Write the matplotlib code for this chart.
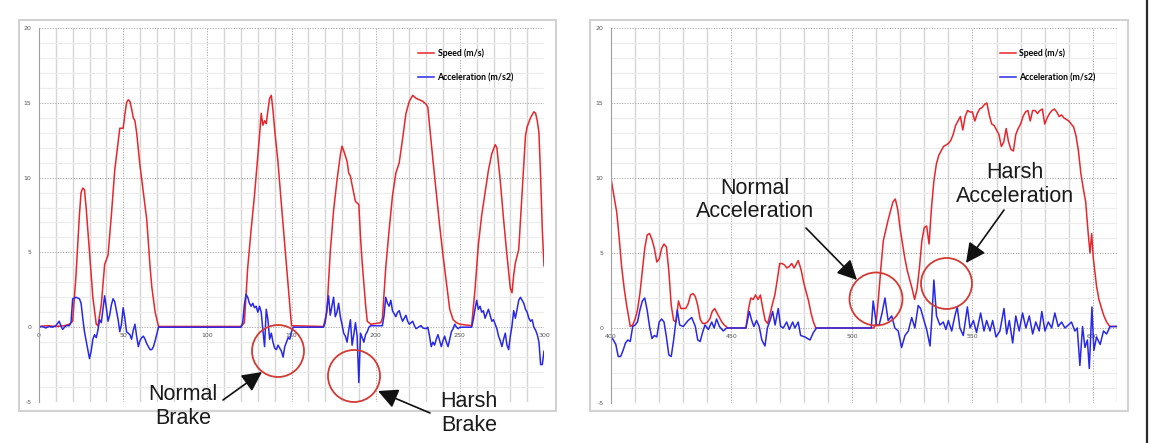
import matplotlib
matplotlib.use("Agg")
import matplotlib.pyplot as plt
import numpy as np
from matplotlib.ticker import MultipleLocator
from matplotlib.patches import Ellipse, FancyArrowPatch
from matplotlib.lines import Line2D

plt.rcParams["axes.unicode_minus"] = False

# ---- data: (time s, value) ----
left_speed = [
    (0, 0.05), (5, 0.1), (10, 0.05), (15, 0.1), (18, 0.2), (20, 0.4), (22, 3.5), (24, 7.5),
    (25, 9.0), (26, 9.3), (27, 9.2), (28, 8.0), (30, 5.0), (32, 2.0), (34, 0.2), (35, 0.1),
    (37, 1.5), (39, 4.2), (40, 4.5), (41, 4.8), (43, 7.5), (45, 10.5), (47, 12.4), (48, 13.3),
    (50, 13.3), (51, 14.2), (52, 15.0), (53, 15.2), (54, 15.1), (55, 14.6), (56, 14.0),
    (57, 13.8), (58, 13.0), (60, 10.8), (62, 9.0), (64, 7.2), (66, 4.0), (67, 2.7), (69, 1.0),
    (71, 0.05), (120, 0.05), (122, 0.3), (124, 4.0), (126, 6.5), (128, 8.8), (130, 11.5),
    (131, 12.8), (132, 14.3), (133, 13.5), (134, 13.8), (135, 13.6), (136, 14.5), (137, 15.3),
    (138, 15.5), (139, 14.5), (140, 13.2), (142, 11.0), (144, 8.2), (146, 5.5), (148, 2.8),
    (150, 0.1), (169, 0.05), (171, 1.0), (173, 5.0), (175, 7.8), (177, 9.8), (179, 11.5),
    (180, 12.1), (181, 11.8), (183, 11.1), (184, 10.3), (185, 10.1), (186, 9.5), (188, 8.4),
    (190, 8.2), (191, 6.0), (192, 4.3), (194, 1.5), (195, 0.4), (197, 0.2), (203, 0.3),
    (204, 0.6), (206, 4.0), (208, 6.5), (210, 8.8), (212, 10.3), (214, 11.0), (216, 12.6),
    (218, 14.3), (220, 15.1), (222, 15.5), (224, 15.3), (226, 15.2), (228, 15.1), (230, 14.9),
    (231, 14.7), (232, 13.5), (234, 11.2), (236, 9.0), (238, 6.8), (240, 4.8), (242, 3.0),
    (244, 1.2), (246, 0.5), (248, 0.3), (250, 0.2), (257, 0.1), (259, 2.5), (261, 5.5),
    (263, 7.5), (265, 9.0), (267, 10.5), (269, 11.6), (271, 12.2), (272, 12.0), (274, 9.8),
    (276, 7.2), (278, 4.8), (280, 2.6), (281, 2.3), (282, 3.5), (283, 4.3), (285, 5.2),
    (287, 9.0), (289, 12.8), (290, 13.4), (292, 14.0), (294, 14.4), (295, 14.3), (296, 13.8),
    (297, 13.0), (298, 10.0), (299, 6.5), (300, 4.1),
]

left_accel = [
    (0, 0), (2, 0.05), (4, -0.05), (6, 0.05), (8, 0.0), (10, 0.1), (12, 0.4), (13, 0.1),
    (14, -0.15), (16, 0.1), (18, 0.1), (19, 0.3), (20, 1.9), (22, 2.0), (24, 1.9), (25, 1.6),
    (26, 0.6), (27, -0.3), (28, -0.9), (30, -2.1), (31, -1.6), (32, -0.8), (33, -0.5),
    (34, -0.7), (35, -0.2), (36, 0.5), (37, 0.3), (38, 1.2), (39, 2.1), (40, 1.3), (41, 0.4),
    (42, 0.8), (43, 1.5), (44, 1.9), (45, 1.7), (46, 1.1), (47, 0.5), (48, -0.3), (49, 0.2),
    (50, 1.3), (51, 0.6), (52, -0.3), (54, -0.5), (55, -0.8), (56, -0.2), (57, 0.2),
    (58, -0.6), (59, -1.3), (60, -0.9), (61, -0.7), (62, -0.6), (63, -0.8), (64, -1.1),
    (66, -1.5), (67, -1.5), (68, -1.3), (69, -0.9), (71, 0.0), (120, 0.0), (121, 0.3),
    (122, 1.5), (123, 2.2), (124, 2.0), (125, 1.6), (126, 1.4), (127, 1.6), (128, 1.3),
    (129, 1.4), (130, 1.0), (131, 1.4), (132, 1.0), (133, -0.2), (134, -1.3), (135, 1.2),
    (136, 0.5), (137, -0.8), (138, -0.4), (139, -1.0), (140, -1.4), (141, -1.5), (142, -1.2),
    (143, -1.4), (144, -1.6), (145, -2.0), (146, -1.3), (147, -1.0), (148, -0.7), (149, -0.8),
    (150, -0.3), (151, 0.0), (169, 0.0), (170, 0.3), (172, 2.1), (173, 0.8), (174, 1.4),
    (175, 2.0), (176, 0.7), (177, 1.0), (178, 1.6), (179, 0.7), (180, 0.2), (181, -0.4),
    (182, -0.6), (183, -1.0), (184, -0.2), (185, 0.5), (186, -1.2), (187, -0.5), (188, 0.3),
    (189, -0.6), (190, -3.7), (191, -0.4), (192, -0.7), (193, -1.0), (194, -0.5), (195, -0.3),
    (196, 0.0), (197, 0.1), (204, 0.1), (205, 0.8), (206, 2.0), (207, 1.6), (208, 1.4),
    (209, 1.8), (210, 1.1), (211, 0.9), (212, 0.7), (213, 1.0), (214, 1.1), (215, 0.7),
    (216, 0.4), (217, 0.6), (218, 0.8), (219, 0.4), (220, 0.2), (221, 0.3), (222, 0.4),
    (223, 0.1), (224, -0.1), (226, 0.05), (227, 0.1), (228, -0.05), (230, -0.1), (231, 0.0),
    (232, -0.6), (233, -1.3), (234, -1.0), (235, -1.2), (236, -0.8), (237, -0.5), (238, -0.9),
    (239, -1.3), (240, -0.9), (241, -0.6), (242, -1.0), (243, -1.3), (244, -0.8), (245, -0.3),
    (246, -0.1), (247, 0.2), (248, 0.0), (249, -0.1), (250, 0.0), (257, 0.0), (258, 0.5),
    (259, 1.2), (260, 1.8), (261, 1.2), (262, 1.4), (263, 1.0), (264, 1.1), (265, 0.6),
    (266, 0.9), (267, 1.2), (268, 0.8), (269, 0.4), (270, 0.5), (271, 0.2), (272, -0.1),
    (273, -0.6), (274, -0.9), (275, -1.3), (276, -0.8), (277, -0.4), (278, -1.2), (279, -1.5),
    (280, -0.6), (281, 0.1), (282, 1.1), (283, 0.6), (284, 1.2), (285, 1.8), (286, 2.0),
    (287, 1.8), (288, 1.6), (289, 1.2), (290, 1.0), (291, 0.6), (292, 0.4), (293, 0.5),
    (294, 0.0), (295, -0.2), (296, -0.5), (297, -1.0), (298, -2.5), (299, -2.5), (300, -1.6),
]

right_speed = [
    (400, 10.0), (401, 9.0), (402.4, 7.7), (403.5, 5.8), (404.4, 4.1), (405.5, 2.6),
    (406.5, 1.5), (408, 0.1), (409, 0.2), (410, 0.6), (411, 1.2), (412, 2.3), (413, 3.8),
    (414, 5.3), (415, 6.2), (416, 6.3), (417, 5.9), (418, 5.3), (419, 4.4), (420, 4.6),
    (421, 5.3), (422, 5.6), (423, 5.4), (424, 3.8), (425, 1.5), (426, 0.5), (427, 0.4),
    (428, 1.8), (429, 1.3), (431, 1.3), (432, 1.6), (433, 2.2), (434, 2.3), (435, 2.1),
    (436, 1.5), (437, 0.6), (438, 0.3), (439, 0.3), (440, 0.4), (441, 0.6), (442, 1.1),
    (443, 1.3), (444, 1.0), (445, 0.7), (446, 0.4), (447, 0.2), (448.5, 0.0), (456, 0.0),
    (457, 1.2), (458, 2.0), (459, 1.9), (460, 2.2), (461, 1.9), (462, 2.2), (463, 1.3),
    (464, 0.5), (465, 0.3), (466, 0.9), (467, 1.6), (468, 2.2), (469, 3.2), (470, 4.3),
    (471, 4.3), (472, 4.2), (473, 4.0), (474, 4.1), (475, 4.3), (476, 4.0), (477, 4.3),
    (477.7, 4.5), (478.5, 4.1), (479, 3.8), (480, 3.0), (481, 2.4), (482, 1.8), (483, 1.0),
    (484, 0.4), (485, 0.0), (509, 0.0), (510, 0.3), (511, 2.0), (512, 4.0), (513, 5.8),
    (514, 6.5), (515, 7.2), (516, 7.8), (517, 8.4), (518, 8.6), (519, 7.9), (520, 6.6),
    (521, 5.6), (522, 4.6), (523, 3.8), (524, 3.2), (525, 2.6), (526, 1.9), (527, 2.6),
    (528, 4.0), (529, 5.8), (530, 6.7), (531, 6.8), (532, 5.6), (533, 8.0), (534, 9.8),
    (535, 10.9), (536, 11.5), (537, 11.8), (538, 12.1), (539, 12.2), (540, 12.3),
    (541, 12.5), (542, 12.9), (543, 13.5), (544, 13.8), (545, 14.1), (546, 13.2),
    (547, 14.1), (548, 14.5), (549, 14.4), (550, 14.4), (551, 13.8), (552, 14.3),
    (553, 14.6), (554, 14.7), (555, 14.9), (556, 15.0), (557, 14.2), (558, 13.6),
    (559, 13.5), (560, 13.2), (561, 12.9), (562, 12.1), (563, 12.4), (564, 13.3),
    (565, 12.4), (566, 11.9), (567, 11.8), (568, 12.9), (569, 13.3), (570, 13.6),
    (571, 14.1), (572, 14.4), (573, 14.5), (574, 13.8), (575, 14.5), (576, 14.5),
    (577, 14.3), (578, 14.5), (579, 14.6), (580, 13.6), (581, 14.0), (582, 14.3),
    (583, 14.5), (584, 14.6), (585, 14.4), (586, 14.1), (587, 14.2), (588, 14.0),
    (589, 13.9), (590, 13.8), (591, 13.6), (592, 13.4), (593, 12.8), (594, 11.8),
    (595, 10.3), (596, 9.3), (597, 8.4), (598, 6.4), (598.8, 5.0), (599.5, 6.3),
    (600.2, 4.6), (601.5, 2.8), (602.5, 1.9), (603.6, 1.3), (604.6, 0.8), (605.7, 0.4),
    (607, 0.1), (610, 0.1),
]

right_accel = [
    (400, -0.6), (401, -0.8), (402, -1.1), (403, -1.9), (404, -1.9), (405, -1.5), (406, -1.0),
    (407, -0.8), (408, -0.9), (409, 0.1), (410, 0.2), (411, 0.4), (412, 1.2), (413, 1.8),
    (414, 2.0), (415, 1.2), (416, 0.1), (417, -0.7), (418, -0.5), (419, -0.6), (420, 0.4),
    (421, 0.6), (422, 0.4), (423, -0.6), (424, -1.8), (425, -1.9), (426, -0.8), (427, 0.5),
    (427.5, 1.2), (428.5, 0.2), (430, 0.1), (431, 0.3), (432, 0.5), (433.5, 0.7), (435, 0.1),
    (436, -0.8), (437, -0.9), (438, -0.3), (439, 0.2), (440.4, -0.1), (441.8, 0.4),
    (442.8, 0.0), (443.8, 0.6), (445, 0.1), (446.6, -0.2), (448, 0.0), (456, 0.0),
    (457.4, 1.1), (458.4, 0.5), (459.3, 0.1), (460.4, 0.5), (461.5, 0.1), (462.6, -0.8),
    (463.9, -1.2), (464.9, 0.0), (466, 0.5), (467.1, 1.1), (468.1, 0.2), (469.4, 1.3),
    (470.4, 0.1), (471.5, 0.0), (472.9, 0.4), (474, -0.1), (475.4, 0.4), (476.3, 0.0),
    (477.7, 0.4), (478.7, -0.5), (480.5, -0.6), (482.6, -0.8), (484, -0.3), (485.3, 0.0),
    (508, 0.0), (508.8, 1.8), (510.2, 0.2), (511.3, 0.2), (512.5, 1.0), (513.7, 2.0),
    (515, 0.5), (516.5, 0.8), (517.8, 0.0), (519.2, -0.2), (520.6, -1.3), (522, -0.5),
    (523.4, -0.2), (524.8, 0.7), (526.1, 0.0), (527.5, 1.5), (528.5, 1.3), (529.9, 0.5),
    (531, -0.1), (532.4, -1.2), (533.1, 0.5), (534, 3.2), (535.1, 0.8), (536.5, 0.2),
    (537.9, 0.4), (539, -0.1), (540, 0.5), (541.4, -0.2), (542.7, 0.8), (543.7, 1.4),
    (544.8, 0.0), (546.2, -0.5), (547.9, 1.4), (549, 0.0), (550.4, 0.5), (551.7, -0.3),
    (553.4, 1.0), (554.8, -0.2), (555.9, 0.5), (557.3, -0.2), (558.4, 0.5), (559.8, -0.6),
    (561.4, -0.2), (563.1, 1.3), (564.2, -0.4), (565.3, 0.5), (566.7, -1.0), (568, 0.8),
    (569.4, -0.2), (570.8, 1.0), (572.2, 0.0), (573.6, 0.8), (575, -0.4), (576.3, 0.4),
    (577.7, -0.2), (578.8, 1.1), (580.1, -0.2), (581.5, 0.4), (582.9, 0.0), (584.2, 1.0),
    (585.6, 0.1), (587, 0.4), (588.4, 0.0), (589.8, 0.2), (591.1, 0.4), (592.5, -0.2),
    (593.5, 0.0), (594.6, -2.5), (595.7, 0.1), (596.7, -1.3), (597.7, -0.8), (598.5, -2.7),
    (599.6, 1.4), (600.4, -1.5), (601.5, -0.6), (603, -1.1), (604.4, -0.2), (605.7, -0.4),
    (607.1, 0.1), (610, 0.1),
]

legend_labels = ["Speed (m/s)", "Acceleration (m/s2)"]

# ---- figure ----
W, H = 1156, 443
fig = plt.figure(figsize=(W / 100, H / 100), dpi=100)
fig.patch.set_facecolor("white")


def fx(px):
    return px / W


def fy(py):
    return 1 - py / H


RED = "#e8262b"
BLUE = "#2828e8"


def style(ax, xmin, xmax):
    ax.set_xlim(xmin, xmax)
    ax.set_ylim(-5, 20)
    ax.xaxis.set_major_locator(MultipleLocator(50))
    ax.xaxis.set_minor_locator(MultipleLocator(10))
    ax.yaxis.set_major_locator(MultipleLocator(5))
    ax.yaxis.set_minor_locator(MultipleLocator(1))
    ax.grid(which="major", color="#a8a8a8", lw=0.7, ls=(0, (1.2, 1.5)))
    ax.grid(which="minor", axis="x", color="#d6d6d6", lw=1.0)
    ax.grid(which="minor", axis="y", color="#ececec", lw=0.8)
    ax.set_axisbelow(True)
    for s in ("top", "right"):
        ax.spines[s].set_visible(False)
    ax.spines["bottom"].set_position(("data", 0))
    ax.spines["bottom"].set_visible(False)
    ax.spines["left"].set_color("#a0a0a0")
    ax.tick_params(which="both", length=0, labelsize=4.5, labelcolor="#555555")
    ax.tick_params(axis="x", pad=4.5)
    ax.tick_params(axis="y", pad=5.5)
    ax.set_facecolor("white")


def draw(ax, speed, accel, leg_x):
    st, sv = np.array(speed).T
    at, av = np.array(accel).T
    l1, = ax.plot(st, sv, color=RED, lw=1.1)
    l2, = ax.plot(at, av, color=BLUE, lw=1.1)
    ax.legend([l1, l2], legend_labels, loc="upper left", bbox_to_anchor=(leg_x, 0.945),
              frameon=False, borderpad=0, borderaxespad=0, handlelength=1.8,
              handletextpad=0.4, labelspacing=1.75,
              prop=dict(family="Lato", weight="bold", size=6.3))


# frames around each chart
for x0, x1 in ((19, 556), (590, 1128)):
    fig.add_artist(plt.Rectangle((fx(x0), fy(411)), (x1 - x0) / W, (411 - 20) / H,
                                 transform=fig.transFigure, fill=False,
                                 ec="#d2d2d2", lw=1.5))

ax1 = fig.add_axes([fx(39), fy(402), (544 - 39) / W, (402 - 28) / H])
style(ax1, 0, 300)
draw(ax1, left_speed, left_accel, 0.751)

ax2 = fig.add_axes([fx(611), fy(403), (1117 - 611) / W, (403 - 28) / H])
style(ax2, 400, 610)
draw(ax2, right_speed, right_accel, 0.769)

# slide border on the right
fig.add_artist(Line2D([fx(1147), fx(1147)], [0, 1], transform=fig.transFigure,
                      color="#2a2a2a", lw=1.6))

# ---- annotations ----
circles = [(278, 351, 26), (354, 376, 26), (876, 299, 26.5), (946.5, 283.5, 25.5)]
for cx, cy, r in circles:
    fig.add_artist(Ellipse((fx(cx), fy(cy)), 2 * r / W, 2 * r / H,
                           transform=fig.transFigure, fill=False, ec="#d23a33", lw=1.3))

arrows = [((223, 400), (262, 372)), ((430, 413), (378, 391)),
          ((806, 228), (857, 280)), ((1004, 210), (966, 263))]
for (x0, y0), (x1, y1) in arrows:
    fig.add_artist(FancyArrowPatch((fx(x0), fy(y0)), (fx(x1), fy(y1)),
                                   transform=fig.transFigure,
                                   arrowstyle="-|>,head_length=0.6,head_width=0.3",
                                   mutation_scale=20, color="#111111", lw=1.2,
                                   shrinkA=0, shrinkB=0))

notes = [(183, 406.5, "Normal\nBrake"), (469, 413.5, "Harsh\nBrake"),
         (755, 200, "Normal\nAcceleration"), (1015, 184.5, "Harsh\nAcceleration")]
for cx, cy, txt in notes:
    fig.text(fx(cx), fy(cy), txt, ha="center", va="center", fontsize=15.5,
             family="Liberation Sans", color="#1a1a1a", linespacing=1.15)

fig.savefig("out.png", dpi=100)
